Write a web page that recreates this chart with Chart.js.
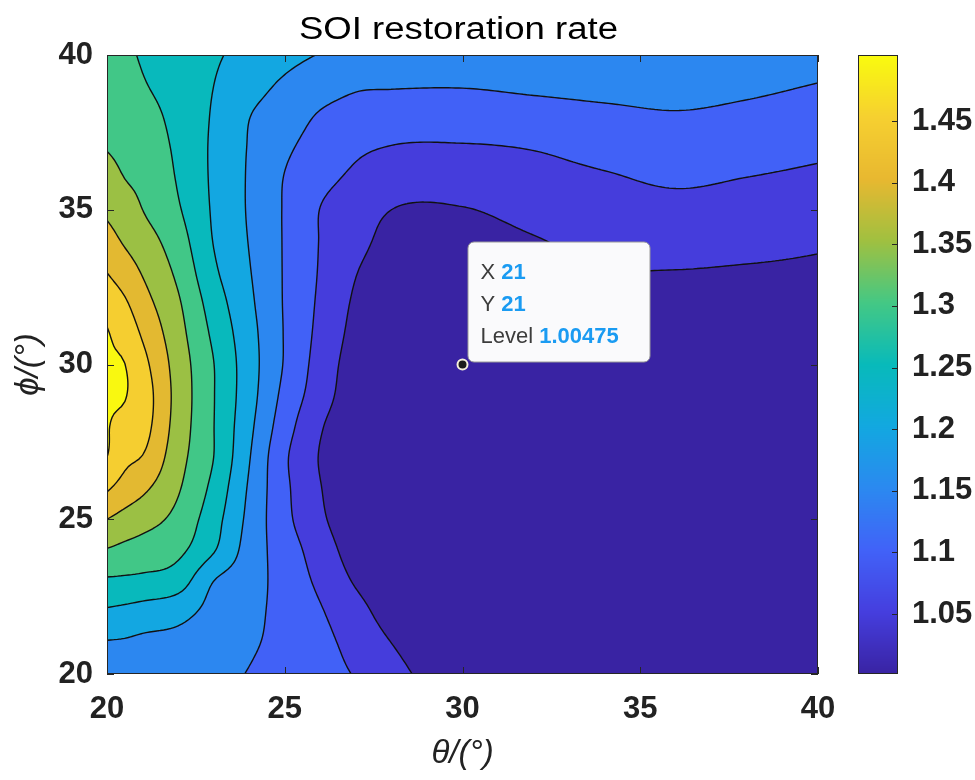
<!DOCTYPE html>
<html>
<head>
<meta charset="utf-8">
<script src="https://cdn.jsdelivr.net/npm/chart.js@4.4.0/dist/chart.umd.min.js"></script>
<style>
  body { margin: 0; background: #fff; }
</style>
</head>
<body>
<canvas id="chart" width="975" height="780"></canvas>
<script>
// grid: theta (x), phi (y), SOI restoration rate rows (one row per phi)
const theta = [20, 20.5, 21, 22, 23, 24, 25, 26, 27, 28, 30, 32, 34, 36, 38, 40];
const phi = [20, 21, 22, 23, 24, 25, 26, 27, 28, 29, 30, 31, 32, 33, 34, 35, 36, 37, 38, 39, 40];
const soiRate = [
  [1.180, 1.178, 1.175, 1.170, 1.162, 1.148, 1.131, 1.115, 1.097, 1.066, 1.020, 1.008, 1.004, 1.002, 1.0015, 1.002],
  [1.197, 1.195, 1.190, 1.186, 1.172, 1.156, 1.136, 1.113, 1.084, 1.050, 1.015, 1.006, 1.003, 1.0015, 1.0013, 1.002],
  [1.243, 1.2375, 1.230, 1.216, 1.185, 1.164, 1.133, 1.104, 1.067, 1.030, 1.010, 1.003, 1.002, 1.0015, 1.0015, 1.002],
  [1.293, 1.291, 1.288, 1.273, 1.200, 1.172, 1.129, 1.090, 1.045, 1.018, 1.006, 1.002, 1.002, 1.002, 1.002, 1.003],
  [1.347, 1.337, 1.329, 1.311, 1.254, 1.179, 1.125, 1.076, 1.028, 1.012, 1.004, 1.002, 1.002, 1.003, 1.003, 1.004],
  [1.400, 1.383, 1.369, 1.335, 1.270, 1.187, 1.114, 1.059, 1.018, 1.010, 1.003, 1.002, 1.003, 1.004, 1.004, 1.005],
  [1.456, 1.430, 1.410, 1.355, 1.286, 1.194, 1.111, 1.052, 1.014, 1.008, 1.003, 1.003, 1.004, 1.005, 1.005, 1.006],
  [1.500, 1.463, 1.448, 1.368, 1.300, 1.203, 1.108, 1.047, 1.012, 1.008, 1.003, 1.003, 1.005, 1.007, 1.007, 1.008],
  [1.5025, 1.486, 1.468, 1.378, 1.301, 1.212, 1.122, 1.055, 1.015, 1.008, 1.003, 1.004, 1.007, 1.010, 1.010, 1.011],
  [1.5036, 1.502, 1.475, 1.382, 1.302, 1.220, 1.136, 1.073, 1.022, 1.009, 1.0035, 1.005, 1.010, 1.014, 1.014, 1.015],
  [1.503, 1.5005, 1.465, 1.378, 1.301, 1.222, 1.146, 1.080, 1.028, 1.011, 1.00475, 1.008, 1.015, 1.020, 1.020, 1.020],
  [1.503, 1.481, 1.444, 1.368, 1.290, 1.218, 1.147, 1.087, 1.036, 1.014, 1.008, 1.014, 1.024, 1.027, 1.026, 1.026],
  [1.482, 1.456, 1.420, 1.356, 1.276, 1.210, 1.146, 1.092, 1.043, 1.018, 1.013, 1.022, 1.035, 1.037, 1.035, 1.034],
  [1.449, 1.424, 1.396, 1.339, 1.259, 1.203, 1.146, 1.096, 1.052, 1.025, 1.020, 1.033, 1.048, 1.049, 1.046, 1.043],
  [1.419, 1.394, 1.373, 1.322, 1.248, 1.198, 1.146, 1.098, 1.065, 1.035, 1.032, 1.047, 1.064, 1.068, 1.064, 1.056],
  [1.391, 1.372, 1.350, 1.305, 1.244, 1.195, 1.146, 1.099, 1.072, 1.050, 1.048, 1.065, 1.080, 1.087, 1.081, 1.073],
  [1.369, 1.350, 1.339, 1.296, 1.242, 1.195, 1.148, 1.114, 1.091, 1.075, 1.071, 1.083, 1.095, 1.106, 1.099, 1.091],
  [1.348, 1.338, 1.327, 1.291, 1.242, 1.197, 1.159, 1.129, 1.108, 1.098, 1.096, 1.102, 1.116, 1.125, 1.119, 1.109],
  [1.335, 1.326, 1.316, 1.286, 1.245, 1.201, 1.175, 1.145, 1.132, 1.125, 1.124, 1.130, 1.139, 1.146, 1.139, 1.128],
  [1.326, 1.318, 1.304, 1.281, 1.250, 1.218, 1.192, 1.170, 1.155, 1.153, 1.152, 1.158, 1.163, 1.165, 1.159, 1.148],
  [1.320, 1.310, 1.295, 1.276, 1.256, 1.235, 1.215, 1.198, 1.185, 1.180, 1.180, 1.178, 1.182, 1.182, 1.180, 1.168]
];
const levels = [1.05, 1.10, 1.15, 1.20, 1.25, 1.30, 1.35, 1.40, 1.45, 1.50];
const colorbarTicks = [1.05, 1.10, 1.15, 1.20, 1.25, 1.30, 1.35, 1.40, 1.45];
const axisTicks = [20, 25, 30, 35, 40];

// data tip
const tipPoint = [30, 30];
const tipIndex = [21, 21];
const tipLevel = 1.00475;

// parula-like colormap stops (0..1 in steps of 0.1)
const cmapStops = [
  [57, 35, 163], [69, 62, 222], [65, 98, 248], [43, 137, 240], [18, 168, 224], [8, 186, 186],
  [68, 200, 132], [160, 192, 64], [232, 184, 48], [246, 208, 48], [249, 251, 14]
];

const FONT = "'Liberation Sans', Arial, Helvetica, sans-serif";
const allZ = soiRate.flat();
const cmin = Math.min(...allZ), cmax = Math.max(...allZ);

function cmap(t) {
  t = Math.max(0, Math.min(1, t)) * (cmapStops.length - 1);
  const i = Math.min(cmapStops.length - 2, Math.floor(t)), f = t - i;
  const a = cmapStops[i], b = cmapStops[i + 1];
  return [0, 1, 2].map(k => Math.round(a[k] + (b[k] - a[k]) * f));
}
function bandColor(z) {
  let k = 0;
  while (k < levels.length && z >= levels[k]) k++;
  const v = k === 0 ? cmin : levels[k - 1];
  return cmap((v - cmin) / (cmax - cmin));
}

// cubic hermite through the grid, three-point slopes
function slopes(xk, yk) {
  const n = xk.length, h = [], d = [], m = new Array(n);
  for (let i = 0; i < n - 1; i++) { h[i] = xk[i + 1] - xk[i]; d[i] = (yk[i + 1] - yk[i]) / h[i]; }
  m[0] = d[0]; m[n - 1] = d[n - 2];
  for (let i = 1; i < n - 1; i++) m[i] = (h[i] * d[i - 1] + h[i - 1] * d[i]) / (h[i - 1] + h[i]);
  return m;
}
function interp(xk, yk, m, x) {
  let i = 0;
  while (i < xk.length - 2 && x > xk[i + 1]) i++;
  const h = xk[i + 1] - xk[i], t = (x - xk[i]) / h, t2 = t * t, t3 = t2 * t;
  return (2 * t3 - 3 * t2 + 1) * yk[i] + (t3 - 2 * t2 + t) * h * m[i] +
         (-2 * t3 + 3 * t2) * yk[i + 1] + (t3 - t2) * h * m[i + 1];
}
const rowSlopes = soiRate.map(r => slopes(theta, r));
function columnAt(x) {
  const col = soiRate.map((r, j) => interp(theta, r, rowSlopes[j], x));
  return { col, m: slopes(phi, col) };
}
function zAt(c, y) { return interp(phi, c.col, c.m, y); }

const contourPlugin = {
  id: 'contour',
  beforeDatasetsDraw(chart) {
    const { ctx, chartArea: a, scales } = chart;
    const xs = scales.x, ys = scales.y, cb = scales.cb;
    const L = Math.round(a.left), T = Math.round(a.top);
    const W = Math.round(a.right) - L, H = Math.round(a.bottom) - T;

    // filled bands
    const img = ctx.createImageData(W, H);
    for (let i = 0; i < W; i++) {
      const c = columnAt(xs.getValueForPixel(L + i + 0.5));
      for (let j = 0; j < H; j++) {
        const col = bandColor(zAt(c, ys.getValueForPixel(T + j + 0.5)));
        const o = (j * W + i) * 4;
        img.data[o] = col[0]; img.data[o + 1] = col[1]; img.data[o + 2] = col[2]; img.data[o + 3] = 255;
      }
    }
    ctx.putImageData(img, L, T);

    // contour lines (marching squares on a fine grid)
    const N = 200, gx = [], gy = [], g = [];
    for (let i = 0; i <= N; i++) { gx.push(xs.min + (xs.max - xs.min) * i / N); gy.push(ys.min + (ys.max - ys.min) * i / N); }
    for (let i = 0; i <= N; i++) {
      const c = columnAt(gx[i]);
      g.push(gy.map(y => zAt(c, y)));
    }
    ctx.save();
    ctx.beginPath();
    ctx.rect(a.left, a.top, a.right - a.left, a.bottom - a.top);
    ctx.clip();
    ctx.strokeStyle = '#111';
    ctx.lineWidth = 1.4;
    ctx.lineJoin = 'round';
    ctx.lineCap = 'round';
    ctx.beginPath();
    const px = v => xs.getPixelForValue(v), py = v => ys.getPixelForValue(v);
    for (const lv of levels) {
      for (let i = 0; i < N; i++) {
        for (let j = 0; j < N; j++) {
          const c = [[gx[i], gy[j], g[i][j]], [gx[i + 1], gy[j], g[i + 1][j]],
                     [gx[i + 1], gy[j + 1], g[i + 1][j + 1]], [gx[i], gy[j + 1], g[i][j + 1]]];
          const pts = [];
          for (let e = 0; e < 4; e++) {
            const p = c[e], q = c[(e + 1) % 4];
            if ((p[2] >= lv) !== (q[2] >= lv)) {
              const f = (lv - p[2]) / (q[2] - p[2]);
              pts.push([p[0] + (q[0] - p[0]) * f, p[1] + (q[1] - p[1]) * f]);
            }
          }
          for (let k = 0; k + 1 < pts.length; k += 2) {
            ctx.moveTo(px(pts[k][0]), py(pts[k][1]));
            ctx.lineTo(px(pts[k + 1][0]), py(pts[k + 1][1]));
          }
        }
      }
    }
    ctx.stroke();
    ctx.restore();

    // axes box and inward ticks
    ctx.save();
    ctx.strokeStyle = '#262626';
    ctx.lineWidth = 1;
    ctx.strokeRect(a.left + 0.5, a.top + 0.5, a.right - a.left - 1, a.bottom - a.top - 1);
    ctx.beginPath();
    for (const v of axisTicks) {
      const x = Math.round(xs.getPixelForValue(v)) + 0.5, y = Math.round(ys.getPixelForValue(v)) + 0.5;
      ctx.moveTo(x, a.bottom); ctx.lineTo(x, a.bottom - 7);
      ctx.moveTo(x, a.top); ctx.lineTo(x, a.top + 7);
      ctx.moveTo(a.left, y); ctx.lineTo(a.left + 7, y);
      ctx.moveTo(a.right, y); ctx.lineTo(a.right - 7, y);
    }
    ctx.stroke();

    // colorbar
    const cbL = Math.round(a.right) + 40, cbW = 40;
    for (let y = Math.round(cb.top); y < Math.round(cb.bottom); y++) {
      const col = cmap((cb.getValueForPixel(y + 0.5) - cmin) / (cmax - cmin));
      ctx.fillStyle = `rgb(${col[0]},${col[1]},${col[2]})`;
      ctx.fillRect(cbL, y, cbW, 1);
    }
    ctx.strokeRect(cbL + 0.5, Math.round(cb.top) + 0.5, cbW - 1, Math.round(cb.bottom - cb.top) - 1);
    ctx.beginPath();
    for (const v of colorbarTicks) {
      const y = Math.round(cb.getPixelForValue(v)) + 0.5;
      ctx.moveTo(cbL + cbW, y); ctx.lineTo(cbL + cbW - 6, y);
    }
    ctx.stroke();
    ctx.restore();
  },
  afterDatasetsDraw(chart) {
    const { ctx, chartArea: a, scales } = chart;
    // title, centred on the axes
    ctx.save();
    ctx.fillStyle = '#000';
    ctx.font = `31px ${FONT}`;
    ctx.textAlign = 'center';
    ctx.textBaseline = 'alphabetic';
    ctx.translate((a.left + a.right) / 2 - 4, 39);
    ctx.scale(1.18, 1);
    ctx.fillText('SOI restoration rate', 0, 0);
    ctx.restore();

    // data tip box
    const x0 = scales.x.getPixelForValue(tipPoint[0]) + 5;
    const y1 = scales.y.getPixelForValue(tipPoint[1]) - 3;
    const w = 182, h = 120, y0 = y1 - h;
    ctx.save();
    ctx.beginPath();
    ctx.roundRect(x0 + 0.5, y0 + 0.5, w, h, 6);
    ctx.fillStyle = '#fafafc';
    ctx.fill();
    ctx.strokeStyle = '#9a9a9a';
    ctx.lineWidth = 1;
    ctx.stroke();
    const names = ['X', 'Y', 'Level'];
    const vals = [String(tipIndex[0]), String(tipIndex[1]), String(tipLevel)];
    ctx.textBaseline = 'alphabetic';
    ctx.textAlign = 'left';
    names.forEach((n, i) => {
      const by = y0 + 37 + i * 32;
      ctx.font = `22px ${FONT}`;
      ctx.fillStyle = '#3c3c3c';
      ctx.fillText(n, x0 + 13, by);
      const nw = ctx.measureText(n + ' ').width;
      ctx.font = `bold 22px ${FONT}`;
      ctx.fillStyle = '#1a9bf2';
      ctx.fillText(vals[i], x0 + 13 + nw, by);
    });
    ctx.restore();
  }
};

const tickFont = { family: FONT, size: 31, weight: 'bold' };
const labelFont = { family: FONT, size: 33, style: 'italic' };

new Chart(document.getElementById('chart'), {
  type: 'scatter',
  data: {
    datasets: [{
      data: [{ x: tipPoint[0], y: tipPoint[1] }],
      pointRadius: 5,
      borderWidth: 2,
      backgroundColor: '#1c1c1c',
      borderColor: '#f6f1dc'
    }]
  },
  options: {
    responsive: false,
    animation: false,
    devicePixelRatio: 1,
    events: [],
    layout: { autoPadding: false, padding: { top: 55, left: 0, right: 0, bottom: 0 } },
    plugins: { legend: { display: false }, tooltip: { enabled: false }, title: { display: false } },
    scales: {
      x: {
        type: 'linear', min: 20, max: 40,
        ticks: { stepSize: 5, font: tickFont, color: '#222', padding: 17 },
        grid: { display: false, drawTicks: false },
        border: { display: false },
        title: { display: true, text: 'θ/(°)', font: labelFont, color: '#222', padding: { top: 0, bottom: 6 } },
        afterFit: s => { s.height = 106; }
      },
      y: {
        type: 'linear', min: 20, max: 40,
        ticks: { stepSize: 5, font: tickFont, color: '#222', padding: 14 },
        grid: { display: false, drawTicks: false },
        border: { display: false },
        title: { display: true, text: 'ϕ/(°)', font: labelFont, color: '#222', padding: { top: 9, bottom: 0 } },
        afterFit: s => { s.width = 107; }
      },
      cb: {
        type: 'linear', position: 'right', min: cmin, max: cmax,
        afterBuildTicks: s => { s.ticks = colorbarTicks.map(v => ({ value: v })); },
        ticks: { font: tickFont, color: '#222', padding: 4, callback: v => String(+v.toFixed(2)) },
        grid: { display: false, drawTicks: true, tickLength: 90 },
        border: { display: false },
        afterFit: s => { s.width = 157; }
      }
    }
  },
  plugins: [contourPlugin]
});
</script>
</body>
</html>
